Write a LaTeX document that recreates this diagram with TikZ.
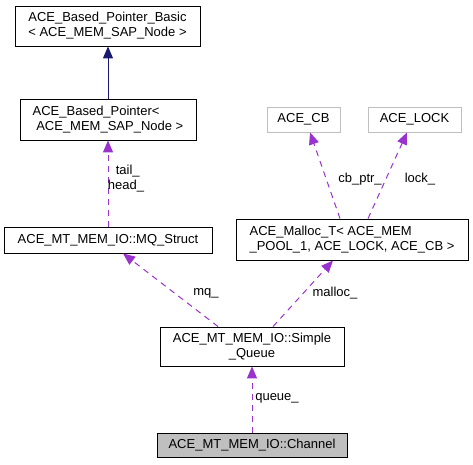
\documentclass[tikz,border=0pt]{standalone}
\usepackage{fontspec}
\setmainfont{Liberation Sans}
\usetikzlibrary{arrows.meta,calc}
\definecolor{edgepurple}{HTML}{9A32CD}
\definecolor{edgenavy}{HTML}{191970}
\definecolor{boxgray}{HTML}{BFBFBF}
\tikzset{
  cls/.style={draw=black, line width=0.9pt, fill=white, inner sep=0pt, font=\fontsize{13}{15}\selectfont},
  extcls/.style={cls, draw=boxgray},
  curcls/.style={cls, fill=boxgray},
  usage/.style={draw=edgepurple, line width=1pt, dash pattern=on 6pt off 5pt,
    -{Triangle[length=12pt,width=10pt,fill=edgepurple]}},
  inherit/.style={draw=edgenavy, line width=1pt,
    -{Triangle[length=12pt,width=10pt,fill=edgenavy]}},
  lbl/.style={font=\fontsize{13}{15}\selectfont, inner sep=0pt, align=center}
}
\begin{document}
\begin{tikzpicture}[x=1pt,y=-1pt]
\useasboundingbox (0,0) rectangle (473,464);
% nodes
\node[cls, minimum width=185pt, minimum height=40pt, align=center] (basic) at (107.5,26)
  {ACE\_Based\_Pointer\_Basic\\< ACE\_MEM\_SAP\_Node >};
\node[cls, minimum width=176pt, minimum height=41pt, align=left] (bp) at (108,119.5)
  {ACE\_Based\_Pointer<\\\ ACE\_MEM\_SAP\_Node >};
\node[cls, minimum width=208pt, minimum height=26pt] (mq) at (108,240)
  {ACE\_MT\_MEM\_IO::MQ\_Struct};
\node[extcls, minimum width=73pt, minimum height=25pt] (cb) at (303.5,119.5) {ACE\_CB};
\node[extcls, minimum width=93pt, minimum height=25pt] (lock) at (414.5,119.5) {ACE\_LOCK};
\node[cls, minimum width=232pt, minimum height=41pt, align=left] (malloc) at (352,239.5)
  {ACE\_Malloc\_T< ACE\_MEM\\\_POOL\_1, ACE\_LOCK, ACE\_CB >};
\node[cls, minimum width=184pt, minimum height=39pt, align=center] (sq) at (252,346.5)
  {ACE\_MT\_MEM\_IO::Simple\\\_Queue};
\node[curcls, minimum width=190pt, minimum height=24pt] (ch) at (252,445)
  {ACE\_MT\_MEM\_IO::Channel};
% edges
\draw[inherit] (bp.north) -- (bp.north |- basic.south);
\draw[usage] (mq.north) -- (mq.north |- bp.south);
\draw[usage] ([xshift=-34pt]sq.north) -- ([xshift=15pt]mq.south);
\draw[usage] ([xshift=21pt]sq.north) -- ([xshift=-19pt]malloc.south);
\draw[usage] ([xshift=-12pt]malloc.north) -- ([xshift=6.5pt]cb.south);
\draw[usage] ([xshift=16pt]malloc.north) -- ([xshift=-7.5pt]lock.south);
\draw[usage] (ch.north) -- (sq.south);
% labels
\node[lbl] (ltail) at (126,179) {\ tail\_\\head\_};
\node[lbl] (lcb) at (360,179) {cb\_ptr\_};
\node[lbl] (llock) at (420,179) {lock\_};
\node[lbl] (lmq) at (206,293) {mq\_};
\node[lbl] (lmalloc) at (335,293) {malloc\_};
\node[lbl] (lqueue) at (277,398) {queue\_};
\end{tikzpicture}
\end{document}
